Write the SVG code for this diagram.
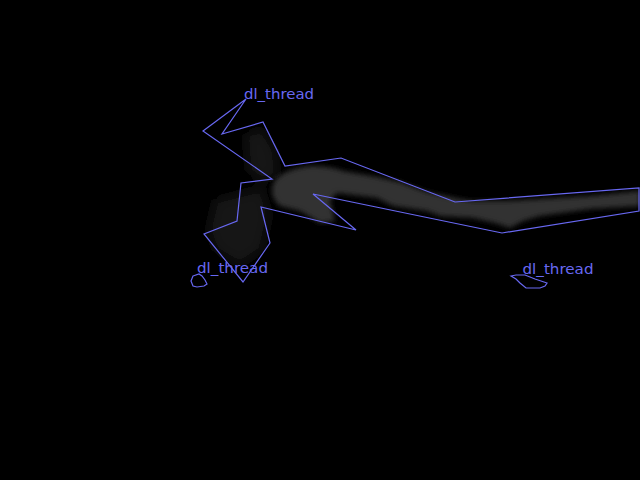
<svg xmlns="http://www.w3.org/2000/svg" width="640" height="480" viewBox="0 0 640 480">
<defs>
<style>
.outline{fill:none;stroke:#6868f2;stroke-width:1.2;stroke-linejoin:miter}
.lbl{font-family:"DejaVu Sans","Liberation Sans",sans-serif;font-size:13.5px;fill:#6868f2}
.thread{fill:#313131}
.faint{fill:#181818}
</style>
<filter id="blur" x="-20%" y="-20%" width="140%" height="140%"><feGaussianBlur stdDeviation="2.5"/></filter>
<filter id="blur2" x="-30%" y="-30%" width="160%" height="160%"><feGaussianBlur stdDeviation="6"/></filter>
</defs>
<rect width="640" height="480" fill="#000"/>
<g id="thread-shape">
<g filter="url(#blur2)">
<path class="faint" d="M245,135 L262,128 L275,150 L278,175 L262,182 L248,170 Z"/>
<path class="faint" d="M215,200 L262,188 L270,215 L262,250 L240,265 L215,250 L208,230 Z"/>
</g>
<g filter="url(#blur)">
<path class="thread" d="M275,180 Q285,169 310,166 Q330,166 343,171 L377,177 L400,182 L427,192 L460,199 L473,201 L507,201 L540,199 L590,196 L640,191 L640,206 L590,209 L540,216 L523,221 L510,228 L495,223 L473,218 L440,216 L427,211 L393,206 L377,198 L337,193 L330,200 L335,221 L320,223 L300,211 L280,206 Q267,195 275,180 Z"/>
</g>
</g>
<g id="dl_thread_main">
<polygon class="outline" points="246,99 203,131 272,179 241,183 237,221 204,234 243,282 270,243 261,207 356,230 313,194 502,233 639,211 639,188 455,202 341,158 285,166 263,122 222,134"/>
<text class="lbl" x="244" y="99" textLength="70" lengthAdjust="spacingAndGlyphs">dl_thread</text>
</g>
<g id="dl_thread_left">
<path fill="#0c0c0c" class="outline" d="M193,276 L199,274 L202,276 L205,280 L207,284 L204,286 L197,287 L193,286 L191,281 Z"/>
<text class="lbl" x="197" y="272.5" textLength="71" lengthAdjust="spacingAndGlyphs">dl_thread</text>
</g>
<g id="dl_thread_right">
<path fill="#0c0c0c" class="outline" d="M511,276 L516,275 L525,275 L535,279 L547,283 L545,286 L540,288 L526,288 L520,283 L516,279 Z"/>
<text class="lbl" x="522.5" y="274" textLength="71" lengthAdjust="spacingAndGlyphs">dl_thread</text>
</g>
</svg>
